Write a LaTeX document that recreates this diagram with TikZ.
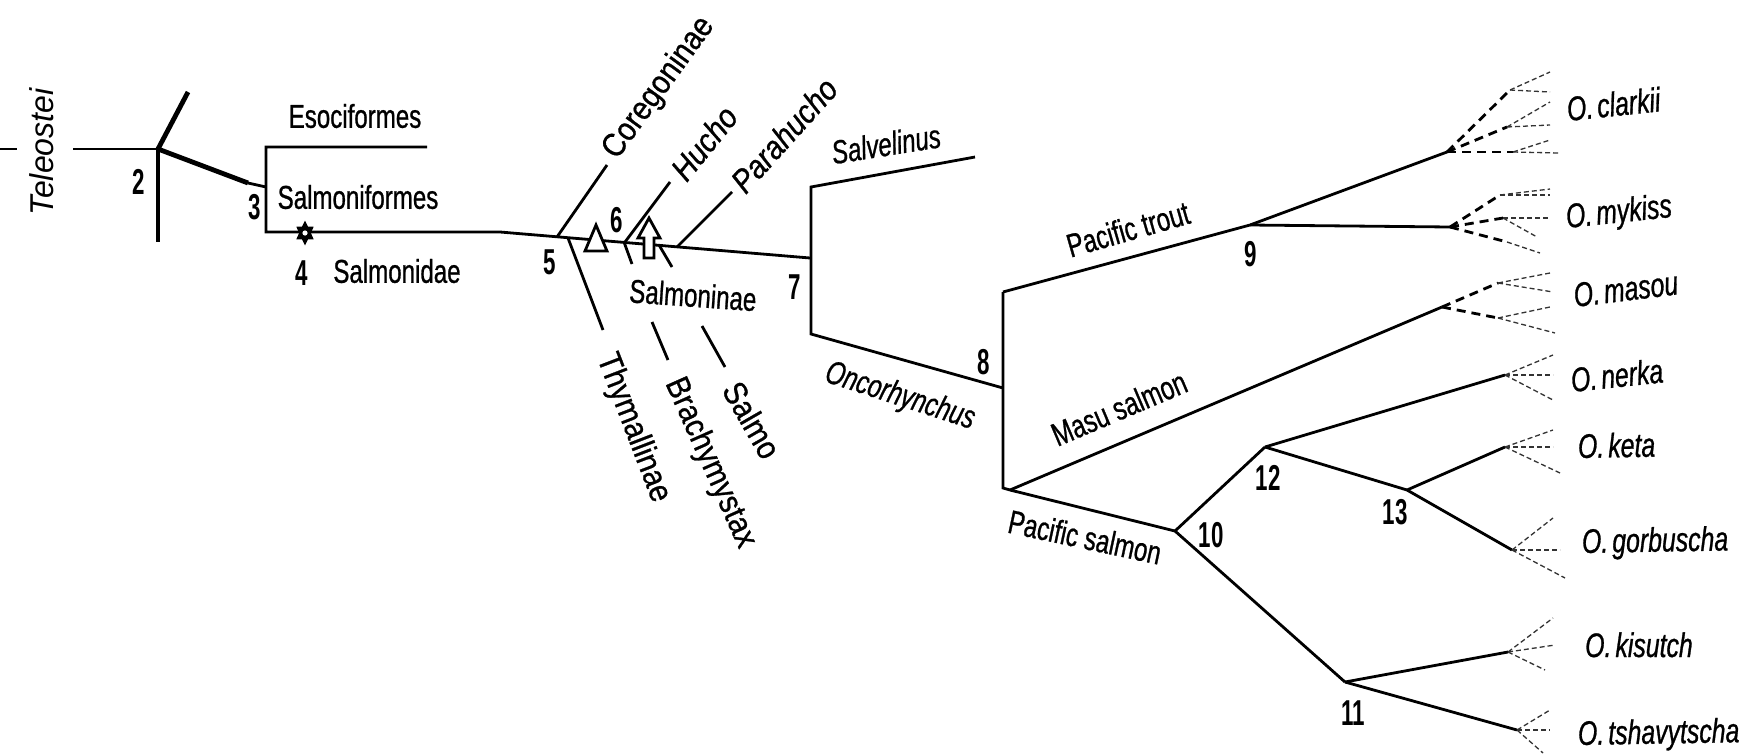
\documentclass[tikz,border=0pt]{standalone}
\usepackage{fontspec}
\setmainfont{Liberation Sans}
\newfontfamily\labfont[FakeStretch=0.73, FakeBold=0.8]{Liberation Sans}
\newfontfamily\steepfont[FakeStretch=0.88, FakeBold=0.8]{Liberation Sans}
\newfontfamily\telfont[FakeStretch=0.97]{Liberation Sans}
\newfontfamily\numfont[FakeStretch=0.62]{Liberation Sans}
\usetikzlibrary{shapes.geometric}

\begin{document}
\begin{tikzpicture}[x=1pt,y=-1pt,
  br/.style={line width=2.8pt},
  thickbr/.style={line width=4.8pt},
  lab/.style={inner sep=0pt, font=\labfont\fontsize{33}{40}\selectfont},
  ilab/.style={inner sep=0pt, font=\labfont\itshape\fontsize{33}{40}\selectfont},
  slab/.style={inner sep=0pt, font=\steepfont\fontsize{33}{40}\selectfont},
  islab/.style={inner sep=0pt, font=\steepfont\itshape\fontsize{33}{40}\selectfont},
  sp/.style={inner sep=0pt, anchor=base west, font=\labfont\itshape\fontsize{34}{40}\selectfont},
  num/.style={inner sep=0pt, font=\numfont\bfseries\fontsize{36}{40}\selectfont},
  fthick/.style={line width=2.8pt, dash pattern=on 9pt off 6pt},
  fthin/.style={line width=1.3pt, dash pattern=on 5pt off 3pt, black!80},
  symbolmark/.style={line width=2.8pt, fill=white, line join=miter},
]
\useasboundingbox (0,0) rectangle (1747,755);

% ---------- branch points ----------
\coordinate (t0) at (0,149);   \coordinate (t1) at (17,149);
\coordinate (r0) at (73,149);  \coordinate (n2) at (158,149);
\coordinate (n2up) at (188,92); \coordinate (n2dn) at (158,242);
\coordinate (n2r) at (248,183); \coordinate (n3) at (266,187);
\coordinate (e0) at (266,147); \coordinate (e1) at (427,147);
\coordinate (s0) at (266,232); \coordinate (bend) at (500,232);
\coordinate (n7in) at (810,258);
\coordinate (n5) at (557,237);  \coordinate (cor) at (607,165);
\coordinate (n5b) at (568,238); \coordinate (thy) at (603,330);
\coordinate (n6) at (625,242);  \coordinate (huc) at (670,182);
\coordinate (n6p) at (677,247); \coordinate (par) at (732,192);
\coordinate (st1a) at (624,242); \coordinate (st1b) at (632,264);
\coordinate (st2a) at (659,245); \coordinate (st2b) at (672,267);
\coordinate (bra0) at (652,322); \coordinate (bra1) at (668,360);
\coordinate (sal0) at (702,326); \coordinate (sal1) at (725,367);
\coordinate (n7t) at (811,187); \coordinate (n7b) at (811,334);
\coordinate (slv) at (975,157);
\coordinate (onc) at (1003,388);
\coordinate (n8t) at (1003,292); \coordinate (n8b) at (1003,488);
\coordinate (n8j) at (1010,490);
\coordinate (n9) at (1250,225);
\coordinate (cl) at (1447,152); \coordinate (my) at (1450,227);
\coordinate (ms) at (1442,307);
\coordinate (n10) at (1175,531); \coordinate (n12) at (1265,447);
\coordinate (n13) at (1407,490); \coordinate (n11) at (1345,682);
\coordinate (ne) at (1505,375); \coordinate (ke) at (1505,447);
\coordinate (go) at (1512,550); \coordinate (ki) at (1508,652);
\coordinate (ts) at (1517,730);
% sub-branches of the dashed fans
\coordinate (cl1) at (1510,90);  \coordinate (cl2) at (1507,127); \coordinate (cl3) at (1513,152);
\coordinate (my1) at (1500,195); \coordinate (my2) at (1503,218); \coordinate (my3) at (1507,242);
\coordinate (ms1) at (1498,283); \coordinate (ms2) at (1498,318);

% ---------- tree ----------
\draw[br] (t0) -- (t1);
\draw[br] (r0) -- (n2);
\draw[thickbr] (n2) -- (n2up);
\draw[thickbr] (n2) -- (n2dn);
\draw[thickbr] (n2) -- (n2r);
\draw[br] (n2r) -- (n3);
\draw[br] (e1) -- (e0) -- (s0) -- (bend) -- (n7in);
\draw[br] (n5) -- (cor);
\draw[br] (n5b) -- (thy);
\draw[br] (n6) -- (huc);
\draw[br] (n6p) -- (par);
\draw[br] (st1a) -- (st1b);
\draw[br] (st2a) -- (st2b);
\draw[br] (bra0) -- (bra1);
\draw[br] (sal0) -- (sal1);
\draw[br] (slv) -- (n7t) -- (n7b) -- (onc);
\draw[br] (n8t) -- (n8b) -- (n8j);
\draw[br] (n8t) -- (n9);
\draw[br] (n9) -- (cl);
\draw[br] (n9) -- (my);
\draw[br] (n8j) -- (ms);
\draw[br] (n8j) -- (n10);
\draw[br] (n10) -- (n12);
\draw[br] (n12) -- (ne);
\draw[br] (n12) -- (n13);
\draw[br] (n13) -- (ke);
\draw[br] (n13) -- (go);
\draw[br] (n10) -- (n11);
\draw[br] (n11) -- (ki);
\draw[br] (n11) -- (ts);

% ---------- dashed fans ----------
\draw[fthick] (cl) -- (cl1);
\draw[fthick] (cl) -- (cl2);
\draw[fthick] (cl) -- (cl3);
\draw[fthin] (cl1) -- ++(40,-18);  \draw[fthin] (cl1) -- ++(40,2);
\draw[fthin] (cl2) -- ++(43,-25);  \draw[fthin] (cl2) -- ++(43,-2);
\draw[fthin] (cl3) -- ++(37,-12);  \draw[fthin] (cl3) -- ++(45,1);
\draw[fthick] (my) -- (my1);
\draw[fthick] (my) -- (my2);
\draw[fthick] (my) -- (my3);
\draw[fthin] (my1) -- ++(50,-6);   \draw[fthin] (my1) -- ++(50,0);
\draw[fthin] (my2) -- ++(45,0);    \draw[fthin] (my2) -- ++(34,19);
\draw[fthin] (my3) -- ++(33,11);
\draw[fthick] (ms) -- (ms1);
\draw[fthick] (ms) -- (ms2);
\draw[fthin] (ms1) -- ++(52,-10);  \draw[fthin] (ms1) -- ++(55,9);
\draw[fthin] (ms2) -- ++(52,-11);  \draw[fthin] (ms2) -- ++(57,15);
\foreach \e/\ax/\ay/\bx/\by/\cx/\cy in
  {ne/48/-20/48/0/48/25, ke/48/-17/48/0/55/26, go/41/-32/48/0/53/28,
   ki/45/-34/47/-7/37/18, ts/33/-20/33/0/26/23}{
  \draw[fthin] (\e) -- ++(\ax,\ay);
  \draw[fthin] (\e) -- ++(\bx,\by);
  \draw[fthin] (\e) -- ++(\cx,\cy);
}

% ---------- marks on the stem ----------
\node[star, star points=6, star point ratio=1.7, fill=black, inner sep=0pt,
      minimum size=20pt, yscale=1.25] (star) at (305,233) {};
\fill[white] (star.center) circle (2.6pt);
\coordinate (tri) at (596,239);
\draw[symbolmark] ([shift={(-11,12)}]tri) -- ([shift={(11,12)}]tri) -- ([shift={(0,-14)}]tri) -- cycle;
\coordinate (arr) at (649,238);
\draw[symbolmark] ([shift={(-5,20)}]arr) -- ([shift={(-5,0)}]arr) -- ([shift={(-11,0)}]arr)
  -- ([shift={(0,-20)}]arr) -- ([shift={(11,0)}]arr) -- ([shift={(5,0)}]arr)
  -- ([shift={(5,20)}]arr) -- cycle;

% ---------- labels ----------
\node[inner sep=0pt, rotate=90, font=\telfont\itshape\fontsize{33}{40}\selectfont] (teleo) at (42,152) {Teleostei};
\node[lab] (esoc) at (355,116) {Esociformes};
\node[lab] (salf) at (358,197) {Salmoniformes};
\node[lab] (salm) at (397,271) {Salmonidae};
\node[slab, rotate=54] (coreg) at (659,88) {Coregoninae};
\node[islab, rotate=51] (hucho) at (704,143) {Hucho};
\node[islab, rotate=48] (parah) at (784,135) {Parahucho};
\node[ilab, rotate=9] (salv) at (886,144) {Salvelinus};
\node[lab, rotate=-4] (salmin) at (693,295) {Salmoninae};
\node[slab, rotate=-69] (thym) at (633,428) {Thymallinae};
\node[slab, rotate=-66] (brach) at (710,463) {Brachymystax};
\node[slab, rotate=-60] (salmo) at (752,420) {Salmo};
\node[ilab, rotate=-18] (oncor) at (900,397) {Oncorhynchus};
\node[lab, rotate=16] (ptrout) at (1128,229) {Pacific trout};
\node[lab, rotate=23] (masu) at (1119,408) {Masu salmon};
\node[lab, rotate=-12] (psalm) at (1085,537) {Pacific salmon};

\node[sp, rotate=6] (oclar) at (1568,121) {O.\hspace{0.12em}clarkii};
\node[sp, rotate=6] (omyk) at (1567,228) {O.\hspace{0.12em}mykiss};
\node[sp, rotate=7] (omas) at (1575,307) {O.\hspace{0.12em}masou};
\node[sp, rotate=6] (oner) at (1572,392) {O.\hspace{0.12em}nerka};
\node[sp, rotate=1] (oket) at (1578,458) {O.\hspace{0.12em}keta};
\node[sp, rotate=1] (ogor) at (1582,553) {O.\hspace{0.12em}gorbuscha};
\node[sp] (okis) at (1585,657) {O.\hspace{0.12em}kisutch};
\node[sp, rotate=1] (otsh) at (1578,745) {O.\hspace{0.12em}tshavytscha};

\node[num] (l2) at (139,182) {2};
\node[num] (l3) at (255,207) {3};
\node[num] (l4) at (302,273) {4};
\node[num] (l5) at (550,262) {5};
\node[num] (l6) at (617,220) {6};
\node[num] (l7) at (795,287) {7};
\node[num] (l8) at (984,362) {8};
\node[num] (l9) at (1251,254) {9};
\node[num] (l10) at (1211,535) {10};
\node[num] (l12) at (1268,478) {12};
\node[num] (l13) at (1395,512) {13};
\node[num] (l11) at (1353,713) {11};
\end{tikzpicture}
\end{document}
